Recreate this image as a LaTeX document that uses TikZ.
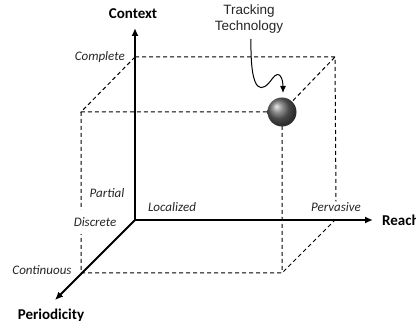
\documentclass[tikz,border=0pt]{standalone}
\usepackage{fontspec}
\setmainfont{Carlito}
\newfontfamily\arialfont{Liberation Sans}
\usetikzlibrary{arrows.meta}
\tikzset{
	axis/.style={line width=1.8pt,-{Latex[length=8pt,width=7pt]}},
	edge/.style={line width=1pt,dash pattern=on 4pt off 3pt},
	level/.style={font=\fontsize{13}{15}\selectfont\itshape,text=black!85,inner sep=1pt},
	axname/.style={font=\fontsize{15}{17}\selectfont\bfseries,inner sep=1pt}
}
\begin{document}
\begin{tikzpicture}[x=1pt,y=-1pt,> = latex]
	\useasboundingbox (0,0) rectangle (416,321);
	% corners of the box
	\coordinate (O)   at (135,220);
	\coordinate (BTL) at (135,57);
	\coordinate (BTR) at (335,57);
	\coordinate (BBR) at (335,220);
	\coordinate (FTL) at (81,112);
	\coordinate (FTR) at (282,112);
	\coordinate (FBL) at (81,273);
	\coordinate (FBR) at (282,273);
	\coordinate (ctxend) at (135,28);
	\coordinate (reachend) at (373,220);
	\coordinate (perend) at (55,300);
	% labels
	\node[level,anchor=east] (complete) at (126,57) {Complete};
	\node[level] (partial) at (107,193) {Partial};
	\node[level,fill=white,inner ysep=7pt] (discrete) at (95,222) {Discrete};
	\node[level] (continuous) at (42,270) {Continuous};
	\node[level] (localized) at (172,207) {Localized};
	\node[level] (pervasive) at (336,207) {Pervasive};
	\node[axname] (context) at (133,14) {Context};
	\node[axname,anchor=west] (reach) at (381,220) {Reach};
	\node[axname] (periodicity) at (51,315) {Periodicity};
	% dashed box
	\draw[edge] (BTL)--(BTR)--(pervasive.north)
		(BTL)--(FTL)--(FTR)--(BTR)
		(FTL)--(FBL)--(FBR)--(BBR)
		(FTR)--(FBR);
	\node[level,fill=white,inner ysep=7pt] at (discrete) {Discrete};
	% axes
	\draw[axis] (O)--(ctxend);
	\draw[axis] (O)--(reachend);
	\draw[axis] (O)--(perend);
	% tracked item
	\shade[ball color=black!60] (FTR) circle (14.5);
	\node[font=\arialfont\fontsize{13.5}{16}\selectfont,align=center,text=black!85] (tracking) at (249,19) {Tracking\\Technology};
	\draw[line width=1pt,-{Latex[length=7pt,width=6pt]}] (251,39) .. controls (250,98) and (263,92) .. (272,79)
		.. controls (280,68) and (283,80) .. (283,93);
\end{tikzpicture}
\end{document}
